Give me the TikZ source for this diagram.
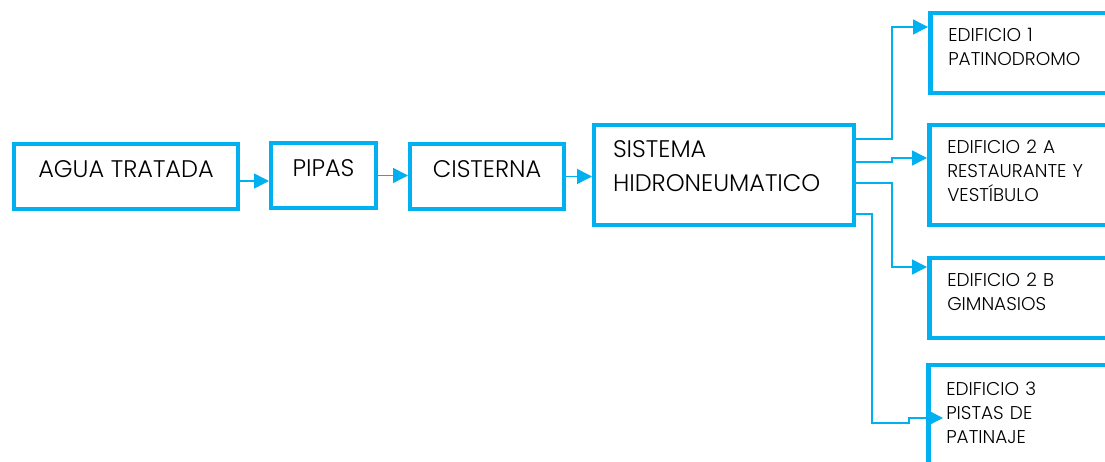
\documentclass[tikz,border=0pt]{standalone}
\usepackage{fontspec}
\setmainfont{Poppins Light}
\usepackage{xcolor}
\usetikzlibrary{arrows.meta}

\definecolor{azul}{HTML}{00B0F0}

\begin{document}
\begin{tikzpicture}[x=1pt, y=-1pt,
    caja/.style={draw=azul, line width=4pt, inner sep=0pt, text height=17pt, text depth=14pt,
                 font=\fontsize{24}{34}\selectfont},
    edif/.style={draw=azul, line width=4.5pt, anchor=west, text width=236pt, inner xsep=18pt,
                 minimum height=#1, align=left, text height=13pt, font=\fontsize{18.5}{24}\selectfont},
    flecha/.style={draw=azul, line width=1.5pt, -{Triangle[length=15pt, width=15pt]}}]
    \useasboundingbox (0,0) rectangle (1105,462);
    \clip (0,0) rectangle (1105,462);

    % cadena principal
    \node[caja, minimum width=224pt, minimum height=65pt] (agua) at (126,176.5) {AGUA TRATADA};
    \node[caja, minimum width=105pt, minimum height=65pt] (pipas) at (323.5,175.5) {PIPAS};
    \node[caja, minimum width=154pt, minimum height=65pt] (cisterna) at (487,176.5) {CISTERNA};
    \node[caja, minimum width=260pt, minimum height=100pt, text width=222pt, inner xsep=19pt,
          align=left, text depth=51pt, font=\fontsize{24}{34}\selectfont] (sistema) at (724,175)
          {SISTEMA\\HIDRONEUMATICO};

    % edificios
    \node[edif=80pt, text depth=35pt] (ed1) at (928,53) {EDIFICIO 1\\PATINODROMO};
    \node[edif=100pt, text depth=55pt] (ed2a) at (927,175) {EDIFICIO 2 A\\RESTAURANTE Y\\VESTÍBULO};
    \node[edif=80pt, text depth=35pt] (ed2b) at (927,298) {EDIFICIO 2 B\\GIMNASIOS};
    \node[edif=105pt, text depth=58pt] (ed3) at (926,417.5) {EDIFICIO 3\\PISTAS DE\\PATINAJE};

    \draw[flecha] ([yshift=-4.5pt]agua.east) -- ([yshift=-5.5pt]pipas.west);
    \draw[flecha] (pipas.east) -- (pipas.east -| cisterna.west);
    \draw[flecha] (cisterna.east) -- (cisterna.east -| sistema.west);

    % salidas del hidroneumatico
    \draw[flecha] ([yshift=36pt]sistema.east) -- ++(36,0) |- ([yshift=26pt]ed1.west);
    \draw[flecha] ([yshift=13pt]sistema.east) -- ++(36,0) -- ++(0,-4) -- ([yshift=17pt]ed2a.west);
    \draw[flecha] ([yshift=-8pt]sistema.east) -- ++(36,0) |- ([yshift=31pt]ed2b.west);
    \draw[flecha] ([yshift=-39pt]sistema.east) -- ++(16,0) -- ++(0,209) -- ++(37,0) -- ++(0,-5)
        -- ([xshift=17pt, yshift=-0.5pt]ed3.west);
\end{tikzpicture}
\end{document}
